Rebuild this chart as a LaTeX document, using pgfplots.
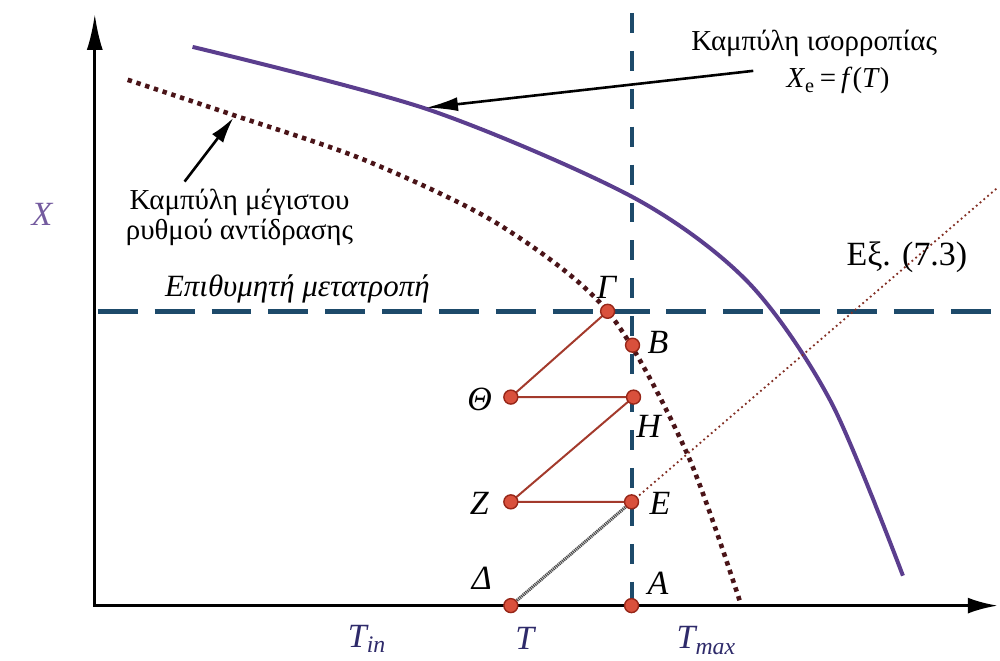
\documentclass[border=0pt]{standalone}
\usepackage{fontspec}
\setmainfont{Liberation Serif}
\usepackage{pgfplots}
\pgfplotsset{compat=1.18}
\usetikzlibrary{arrows.meta}
\definecolor{eqpurple}{HTML}{5B3E8E}
\definecolor{maxred}{HTML}{4A1418}
\definecolor{teal}{HTML}{1D4A6A}
\definecolor{stepred}{HTML}{A33A2C}
\definecolor{dotfill}{HTML}{D9503C}
\definecolor{dotedge}{HTML}{962618}
\definecolor{labnavy}{HTML}{2E2A6A}

\begin{document}
\begin{tikzpicture}
\begin{axis}[
    width=500pt, height=331pt, scale only axis,
    xmin=0, xmax=1000, ymin=0, ymax=662, y dir=reverse,
    hide axis, clip=false,
]
% keep the whole frame in the bounding box
\addplot[draw=none] coordinates {(0,0) (1000,662)};

% desired conversion and reactor temperature
\addplot[teal, line width=2.3pt, dash pattern=on 20pt off 8.5pt] coordinates {(98,312) (1000,312)};
\addplot[teal, line width=2pt, dash pattern=on 10pt off 9pt] coordinates {(633,13) (633,607)};

% equilibrium curve
\addplot[eqpurple, line width=2pt, smooth] coordinates {
    (193,47) (430,110) (635,198) (750,283) (833,403) (905,577)
};
% maximum rate curve
\addplot[maxred, line width=2.3pt, dash pattern=on 2.2pt off 2.4pt, smooth] coordinates {
    (128,80) (233,115) (367,161) (500,225) (609,312) (688,453) (743,607)
};
% Eq. (7.3) line
\addplot[stepred!80!black, line width=0.9pt, dash pattern=on 0.9pt off 1.6pt] coordinates {(633,503) (1000,188)};
\addplot[black!70, line width=1.6pt, dash pattern=on 0.6pt off 0.4pt] coordinates {(512,607) (633,503)};

% staged path
\addplot[stepred, line width=1pt] coordinates {
    (609,312) (512,398) (635,398) (512,503) (633,503)
};

% axes
\addplot[black, line width=1.5pt, -{Latex[length=18pt,width=8pt]}] coordinates {(95,608) (95,14)};
\addplot[black, line width=1.5pt, -{Latex[length=15pt,width=8pt]}] coordinates {(94.3,607) (1000,607)};

% annotation arrows
\addplot[black, line width=1.3pt, -{Latex[length=16pt,width=7pt]}] coordinates {(755,71) (427,108)};
\addplot[black, line width=1.3pt, -{Latex[length=13pt,width=7pt]}] coordinates {(185,182) (234,118)};

% state points
\addplot[only marks, mark=*, mark size=3.5pt, mark options={fill=dotfill, draw=dotedge, line width=0.7pt}] coordinates {
    (609,312) (634,346) (512,398) (635,398) (512,503) (633,503) (512,607) (633,607)
};

% labels
\begin{scope}[font=\fontsize{17}{19}\selectfont\itshape]
\node at (608,288) {Γ};
\node[anchor=west] at (642,343) {B};
\node[anchor=east] at (500,400) {Θ};
\node at (650,427) {H};
\node[anchor=east] at (497,505) {Z};
\node[anchor=west] at (644,505) {E};
\node[anchor=east] at (500,580) {Δ};
\node[anchor=west] at (642,585) {A};
\node[labnavy] at (368,640) {T\textsubscript{in}};
\node[labnavy] at (526,640) {T};
\node[labnavy] at (708,642) {T\textsubscript{max}};
\node[eqpurple!85] at (42,215) {X};
\end{scope}
\node[font=\fontsize{14.5}{17}\selectfont] at (816,43) {Καμπύλη ισορροπίας};
\node[font=\fontsize{14.5}{17}\selectfont] at (840,81) {\textit{X}\textsubscript{e}\,=\,\textit{f}(\textit{T})};
\node[font=\fontsize{14.5}{17}\selectfont, align=center] at (240,218) {Καμπύλη μέγιστου\\[-2pt] ρυθμού αντίδρασης};
\node[font=\fontsize{15.5}{18}\selectfont\itshape] at (298,290) {Επιθυμητή μετατροπή};
\node[font=\fontsize{17}{19}\selectfont] at (909,258) {Εξ. (7.3)};
\end{axis}
\end{tikzpicture}
\end{document}
